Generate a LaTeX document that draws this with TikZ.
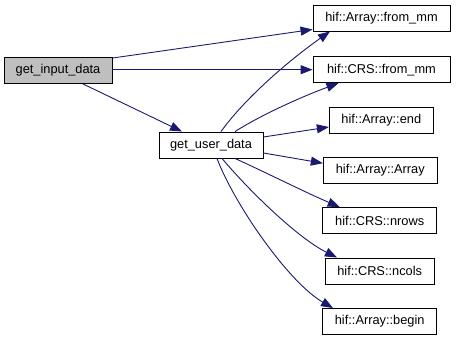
\documentclass[tikz,border=0pt]{standalone}
\usepackage{fontspec}
\setmainfont{Liberation Sans}
\usetikzlibrary{arrows.meta}
\definecolor{edgeblue}{RGB}{25,25,112}
\definecolor{rootfill}{RGB}{191,191,191}
\begin{document}
\begin{tikzpicture}[x=1pt,y=1pt,
  fn/.style={draw=black, line width=0.9pt, fill=white, minimum height=26pt,
             inner sep=0pt, font=\fontsize{12.8}{15}\selectfont},
  root/.style={fn, fill=rootfill},
  call/.style={draw=edgeblue, line width=0.9pt,
               -{Triangle[length=12pt,width=9pt]}},
]
\useasboundingbox (0,0) rectangle (456,341);

% functions
\node[root, minimum width=108pt] (gid) at (58,270.5) {get\_input\_data};
\node[fn, minimum width=104pt] (gud) at (211,196) {get\_user\_data};
\node[fn, minimum width=137pt] (afm) at (381.5,323) {hif::Array::from\_mm};
\node[fn, minimum width=137pt] (cfm) at (381.5,271.3) {hif::CRS::from\_mm};
\node[fn, minimum width=104pt] (aend) at (381.3,221) {hif::Array::end};
\node[fn, minimum width=114pt] (aarr) at (380.3,170.8) {hif::Array::Array};
\node[fn, minimum width=114pt] (nrows) at (379.7,120.5) {hif::CRS::nrows};
\node[fn, minimum width=109pt] (ncols) at (379.7,70) {hif::CRS::ncols};
\node[fn, minimum width=114pt] (abegin) at (379.7,19.5) {hif::Array::begin};

% calls from get_input_data
\draw[call] ([yshift=-1pt]gid.north east) -- ([yshift=2pt]afm.south west);
\draw[call] (gid.east |- cfm.west) -- (cfm.west);
\draw[call] ([xshift=25pt]gid.south) -- ([xshift=-29pt]gud.north);

% calls from get_user_data
\draw[call] ([xshift=10pt]gud.north) .. controls +(26,36) and +(-37,-26) .. ([xshift=-51.5pt]afm.south);
\draw[call] ([xshift=24pt]gud.north) .. controls +(30,19) and +(-30,-11) .. ([xshift=-43pt]cfm.south);
\draw[call] ([yshift=8pt]gud.east) -- ([yshift=-7pt]aend.west);
\draw[call] ([yshift=-8pt]gud.east) -- ([yshift=7pt]aarr.west);
\draw[call] ([xshift=24pt]gud.south) .. controls +(35,-16) and +(-35,15) .. ([xshift=-40pt]nrows.north);
\draw[call] ([xshift=11pt]gud.south) .. controls +(26,-31) and +(-40,20) .. ([xshift=-42.7pt]ncols.north);
\draw[call] ([xshift=6pt]gud.south) .. controls +(17,-45) and +(-45,26) .. ([xshift=-46.7pt]abegin.north);
\end{tikzpicture}
\end{document}
